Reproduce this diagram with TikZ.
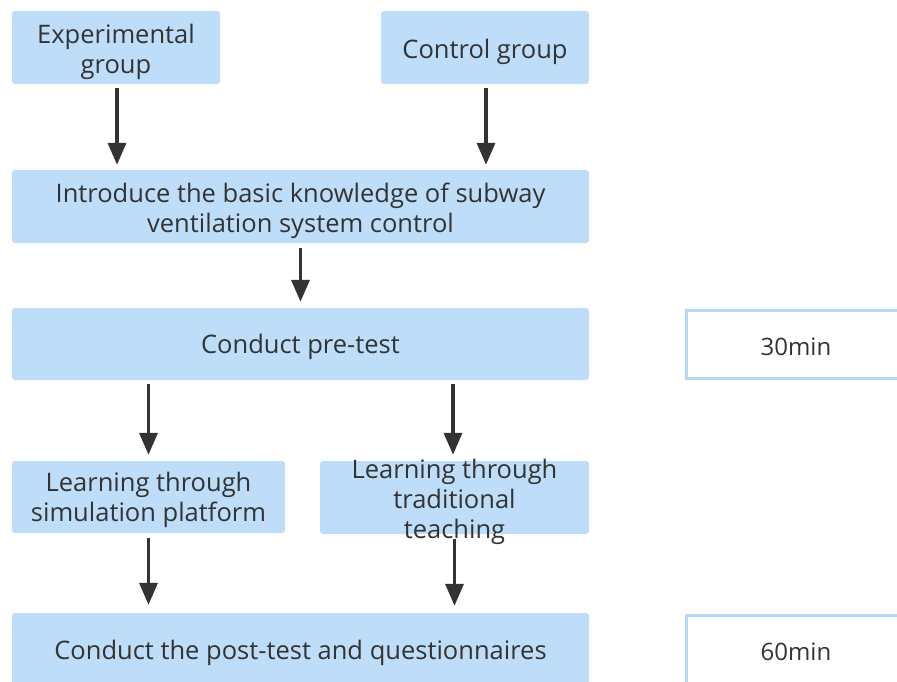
\documentclass[tikz,border=0pt]{standalone}
\usepackage{fontspec}
\setmainfont{Open Sans}
\usetikzlibrary{arrows.meta}
\definecolor{boxblue}{HTML}{BDDDF8}
\definecolor{edgeblue}{HTML}{B5D8F6}
\definecolor{txtgray}{HTML}{333333}
\definecolor{arrgray}{HTML}{333333}
\begin{document}
\begin{tikzpicture}[x=1pt,y=-1pt,
  box/.style={fill=boxblue, rounded corners=3pt, inner sep=0pt},
  timebox/.style={draw=edgeblue, line width=3pt, fill=white, inner sep=0pt},
  txt/.style={text=txtgray, font=\fontsize{25.5}{30}\selectfont, align=center, inner sep=0pt},
  arr/.style={draw=arrgray, line width=3.5pt,
    -{Triangle[width=18pt,length=22pt]}}]
\useasboundingbox (0,0) rectangle (897,682);
\clip (0,0) rectangle (897,682);
% boxes
\node[box, minimum width=208pt, minimum height=73pt] (exp) at (116,47.5) {};
\node[box, minimum width=208pt, minimum height=73pt] (ctrl) at (485,47.5) {};
\node[box, minimum width=577pt, minimum height=73pt] (intro) at (300.5,206.5) {};
\node[box, minimum width=577pt, minimum height=72pt] (pre) at (300.5,344) {};
\node[timebox, minimum width=220pt, minimum height=68pt] (t30) at (796,344) {};
\node[box, minimum width=273pt, minimum height=72pt] (sim) at (148.5,497) {};
\node[box, minimum width=269pt, minimum height=73pt] (trad) at (454.5,497.5) {};
\node[box, minimum width=577pt, minimum height=78pt] (post) at (300.5,652) {};
\node[timebox, minimum width=220pt, minimum height=74pt] (t60) at (796,652) {};
% texts
\node[txt] (exptxt) at ([yshift=-4pt]exp.center) {Experimental\\group};
\node[txt] (ctrltxt) at ([yshift=-4pt]ctrl.center) {Control group};
\node[txt] (introtxt) at ([yshift=-4pt]intro.center) {Introduce the basic knowledge of subway\\ventilation system control};
\node[txt] (pretxt) at ([yshift=-3pt]pre.center) {Conduct pre-test};
\node[txt, font=\fontsize{24}{30}\selectfont] (t30txt) at ([yshift=-3pt]t30.center) {30min};
\node[txt] (simtxt) at ([yshift=-3pt]sim.center) {Learning through\\simulation platform};
\node[txt] (tradtxt) at ([yshift=-4pt]trad.center) {Learning through\\traditional\\teaching};
\node[txt] (posttxt) at ([yshift=-1pt]post.center) {Conduct the post-test and questionnaires};
\node[txt, font=\fontsize{24}{30}\selectfont] (t60txt) at (t60.center) {60min};
% arrows
\draw[arr, shorten <=4pt, shorten >=5pt] ([xshift=1pt]exp.south) -- ([xshift=1pt]exp.south |- intro.north);
\draw[arr, shorten <=4pt, shorten >=5pt] ([xshift=1pt]ctrl.south) -- ([xshift=1pt]ctrl.south |- intro.north);
\draw[arr, shorten <=5pt, shorten >=6pt] (intro.south) -- (intro.south |- pre.north);
\draw[arr, shorten <=4pt, shorten >=6pt] (pre.south -| sim.south) -- (sim.north);
\draw[arr, shorten <=4pt, shorten >=6pt] ([xshift=-1.5pt]pre.south -| trad.south) -- ([xshift=-1.5pt]trad.north);
\draw[arr, shorten <=5pt, shorten >=8pt] (sim.south) -- (sim.south |- post.north);
\draw[arr, shorten <=5pt, shorten >=7pt] (trad.south) -- (trad.south |- post.north);
\end{tikzpicture}
\end{document}
